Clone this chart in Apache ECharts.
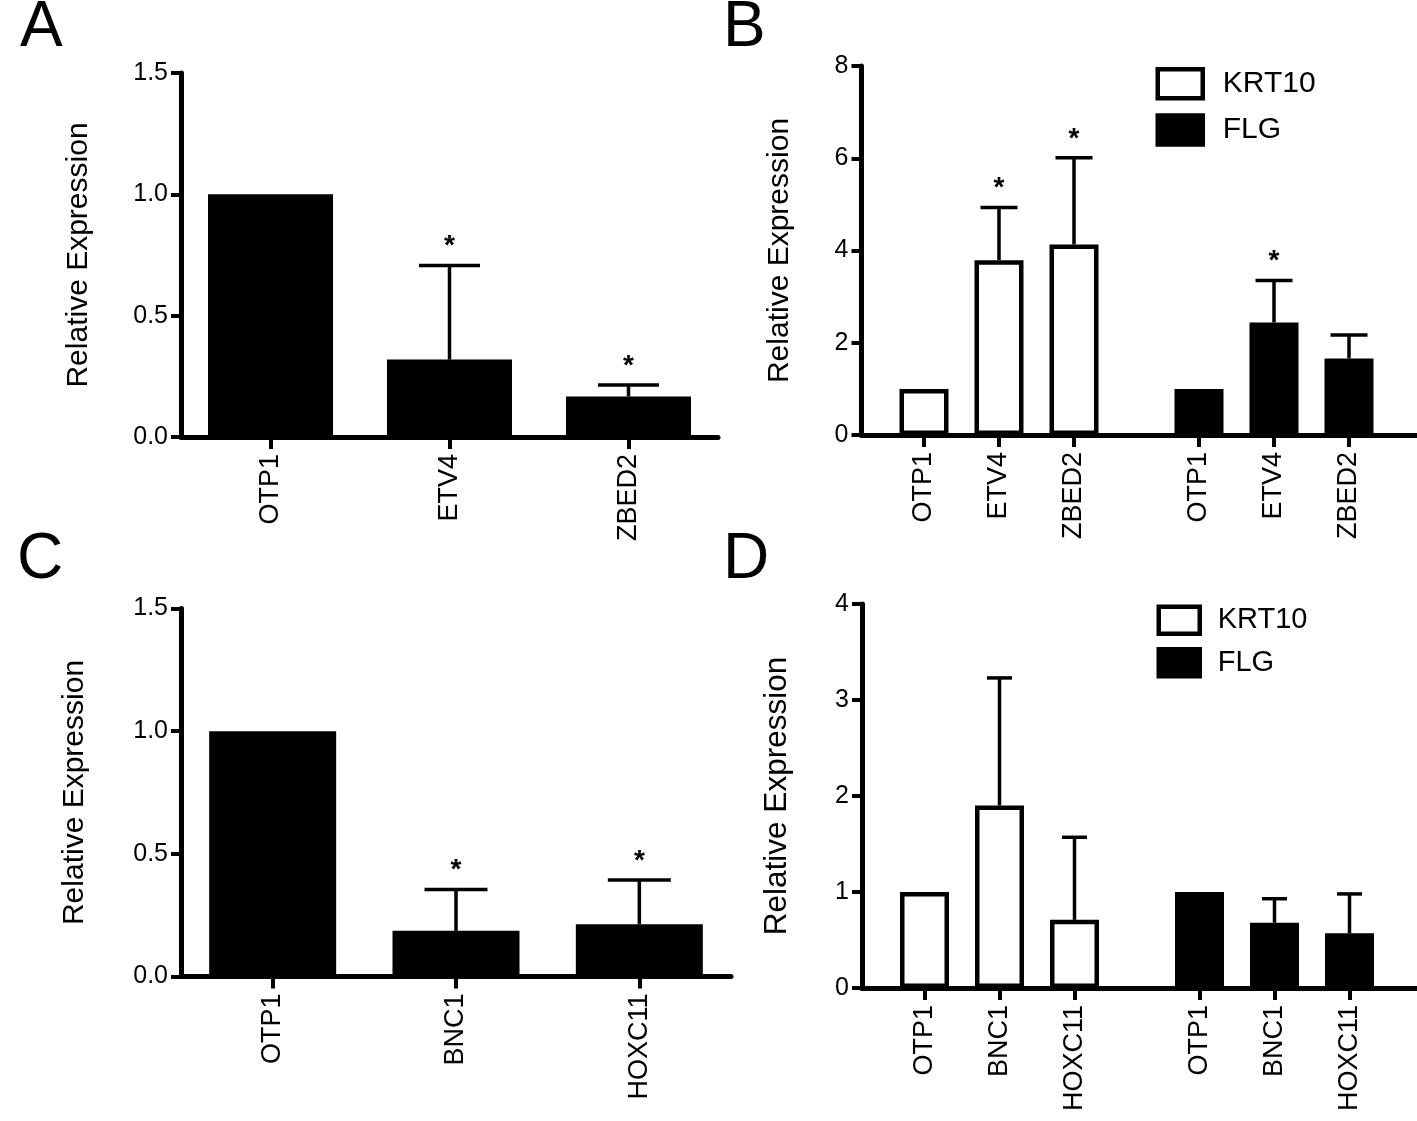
<!DOCTYPE html>
<html>
<head>
<meta charset="utf-8">
<script src="https://cdn.jsdelivr.net/npm/echarts@6/dist/echarts.min.js"></script>
<style>
html,body{margin:0;padding:0;background:#fff;}
#chart{width:1417px;height:1121px;}
</style>
</head>
<body>
<div id="chart"></div>
<script>
// ---------------- DATA ----------------
const yAxisName = 'Relative Expression';
const panelLetters = ['A', 'B', 'C', 'D'];
const seriesNames = ['KRT10', 'FLG'];

// Panel A
const genesA = ['OTP1', 'ETV4', 'ZBED2'];
const valuesA = [1.0, 0.319, 0.167];
const sdA = [0, 0.388, 0.047];
const sigA = [0, 1, 1];

// Panel B
const genesB = ['OTP1', 'ETV4', 'ZBED2'];
const krt10B = [1.0, 3.79, 4.13];
const krt10BSd = [0, 1.14, 1.88];
const krt10BSig = [0, 1, 1];
const flgB = [1.0, 2.44, 1.66];
const flgBSd = [0, 0.91, 0.51];
const flgBSig = [0, 1, 0];

// Panel C
const genesC = ['OTP1', 'BNC1', 'HOXC11'];
const valuesC = [1.0, 0.186, 0.213];
const sdC = [0, 0.169, 0.18];
const sigC = [0, 1, 1];

// Panel D
const genesD = ['OTP1', 'BNC1', 'HOXC11'];
const krt10D = [1.0, 1.90, 0.71];
const krt10DSd = [0, 1.33, 0.86];
const krt10DSig = [0, 0, 0];
const flgD = [1.0, 0.68, 0.57];
const flgDSd = [0, 0.25, 0.41];
const flgDSig = [0, 0, 0];

// Y tick settings
const yTicksA = {min: 0, max: 1.5, interval: 0.5};
const yTicksB = {min: 0, max: 8, interval: 2};
const yTicksC = {min: 0, max: 1.5, interval: 0.5};
const yTicksD = {min: 0, max: 4, interval: 1};

// ---------------- LAYOUT HELPERS ----------------
const FONT = "'Liberation Sans', Arial, Helvetica, sans-serif";
const BLACK = '#000';

// grouped panels: slot layout on a category axis (spacers between groups)
const SLOT_TOTAL = 23, LEAD = 2, STEP = 3, GROUP2 = 13;
function slotCats(genes) {
  const cats = new Array(SLOT_TOTAL).fill('');
  genes.forEach((g, i) => { cats[LEAD + STEP * i] = g; cats[GROUP2 + STEP * i] = g; });
  return cats;
}
function slotIdx(group, i) { return (group === 0 ? LEAD : GROUP2) + STEP * i; }
function slotBarData(vals, group) {
  const d = new Array(SLOT_TOTAL).fill('-');
  vals.forEach((v, i) => { d[slotIdx(group, i)] = v; });
  return d;
}
function errData(vals, sds, sigs, idxFn) {
  const out = [];
  vals.forEach((v, i) => { if (sds[i] > 0) out.push([idxFn(i), v, v + sds[i], sigs[i]]); });
  return out;
}
function errRender(capW) {
  return function (params, api) {
    const x = api.value(0), v = api.value(1), up = api.value(2), sig = api.value(3);
    const p0 = api.coord([x, v]);
    const p1 = api.coord([x, up]);
    const children = [
      {type: 'line', shape: {x1: p0[0], y1: p0[1], x2: p1[0], y2: p1[1]}, style: {stroke: BLACK, lineWidth: 3.5}},
      {type: 'line', shape: {x1: p1[0] - capW / 2, y1: p1[1], x2: p1[0] + capW / 2, y2: p1[1]}, style: {stroke: BLACK, lineWidth: 3.5}}
    ];
    if (sig) {
      children.push({type: 'text', x: p1[0], y: p1[1] - 19,
        style: {text: '*', fontSize: 28, fontWeight: 'bold', fill: BLACK, align: 'center', verticalAlign: 'middle', fontFamily: FONT}});
    }
    return {type: 'group', children: children};
  };
}
const notBlank = (idx, val) => val !== '';

function xAxisCfg(gridIndex, cats, isSlots) {
  return {
    type: 'category', gridIndex: gridIndex, data: cats, boundaryGap: true,
    axisLine: {lineStyle: {color: BLACK, width: 5}},
    axisTick: {show: true, length: 12, alignWithLabel: true, interval: isSlots ? notBlank : 0,
      lineStyle: {color: BLACK, width: 4}},
    axisLabel: {rotate: 90, margin: 17, fontSize: 27, color: BLACK, fontFamily: FONT, interval: isSlots ? notBlank : 0},
    splitLine: {show: false}
  };
}
function yAxisCfg(gridIndex, t, decimals, nameGap, nameSize) {
  return {
    type: 'value', gridIndex: gridIndex, min: t.min, max: t.max, interval: t.interval,
    name: yAxisName, nameLocation: 'middle', nameGap: nameGap,
    nameTextStyle: {fontSize: nameSize, color: BLACK, fontFamily: FONT},
    axisLine: {show: true, lineStyle: {color: BLACK, width: 5}},
    axisTick: {show: true, length: 10, lineStyle: {color: BLACK, width: 4}},
    axisLabel: {margin: 13, fontSize: 25, color: BLACK, fontFamily: FONT,
      formatter: v => v.toFixed(decimals)},
    splitLine: {show: false}
  };
}
const whiteBar = {color: '#fff', borderColor: BLACK, borderWidth: 4.5};
const blackBar = {color: BLACK, borderColor: BLACK, borderWidth: 4.5};

const catsB = slotCats(genesB);
const catsD = slotCats(genesD);

const option = {
  animation: false,
  backgroundColor: '#fff',
  textStyle: {fontFamily: FONT},
  grid: [
    {left: 181, top: 73, width: 537, height: 364, outerBoundsMode: 'none'},
    {left: 861.5, top: 66, width: 575, height: 369, outerBoundsMode: 'none'},
    {left: 181, top: 608.5, width: 550, height: 368, outerBoundsMode: 'none'},
    {left: 862, top: 604, width: 575, height: 384, outerBoundsMode: 'none'}
  ],
  xAxis: [
    xAxisCfg(0, genesA, false),
    xAxisCfg(1, catsB, true),
    xAxisCfg(2, genesC, false),
    xAxisCfg(3, catsD, true)
  ],
  yAxis: [
    yAxisCfg(0, yTicksA, 1, 87, 30),
    yAxisCfg(1, yTicksB, 0, 67, 30),
    yAxisCfg(2, yTicksC, 1, 91, 30),
    yAxisCfg(3, yTicksD, 0, 69, 31.5)
  ],
  legend: [
    {orient: 'vertical', left: 1155.5, top: 67, padding: 0, itemWidth: 45, itemHeight: 29, itemGap: 12.7, icon: 'rect',
      selectedMode: false,
      textStyle: {fontSize: 30, color: BLACK, fontFamily: FONT, padding: [0, 0, 0, 15]},
      data: [{name: seriesNames[0], itemStyle: whiteBar}, {name: seriesNames[1], itemStyle: blackBar}]},
    {orient: 'vertical', left: 1156.5, top: 604.5, padding: 0, itemWidth: 41, itemHeight: 27, itemGap: 11, icon: 'rect',
      selectedMode: false,
      textStyle: {fontSize: 29, color: BLACK, fontFamily: FONT, padding: [0, 0, 0, 13]},
      data: [{name: seriesNames[0], itemStyle: whiteBar}, {name: seriesNames[1], itemStyle: blackBar}]}
  ],
  graphic: [
    {type: 'text', x: 20, y: 28, style: {text: panelLetters[0], fontSize: 64, fill: BLACK, fontFamily: FONT, verticalAlign: 'middle'}},
    {type: 'text', x: 723, y: 28, style: {text: panelLetters[1], fontSize: 64, fill: BLACK, fontFamily: FONT, verticalAlign: 'middle'}},
    {type: 'text', x: 17, y: 560, style: {text: panelLetters[2], fontSize: 64, fill: BLACK, fontFamily: FONT, verticalAlign: 'middle'}},
    {type: 'text', x: 723, y: 560, style: {text: panelLetters[3], fontSize: 64, fill: BLACK, fontFamily: FONT, verticalAlign: 'middle'}}
  ],
  series: [
    // Panel A
    {type: 'bar', name: 'A', xAxisIndex: 0, yAxisIndex: 0, barWidth: 125, data: valuesA,
      itemStyle: {color: BLACK}},
    {type: 'custom', xAxisIndex: 0, yAxisIndex: 0, renderItem: errRender(61),
      data: errData(valuesA, sdA, sigA, i => i)},
    // Panel B
    {type: 'bar', name: seriesNames[0], xAxisIndex: 1, yAxisIndex: 1, barWidth: 49, barGap: '-100%',
      data: slotBarData(krt10B, 0), itemStyle: whiteBar},
    {type: 'bar', name: seriesNames[1], xAxisIndex: 1, yAxisIndex: 1, barWidth: 49, barGap: '-100%',
      data: slotBarData(flgB, 1), itemStyle: blackBar},
    {type: 'custom', xAxisIndex: 1, yAxisIndex: 1, renderItem: errRender(37),
      data: errData(krt10B, krt10BSd, krt10BSig, i => slotIdx(0, i))
        .concat(errData(flgB, flgBSd, flgBSig, i => slotIdx(1, i)))},
    // Panel C
    {type: 'bar', name: 'C', xAxisIndex: 2, yAxisIndex: 2, barWidth: 127, data: valuesC,
      itemStyle: {color: BLACK}},
    {type: 'custom', xAxisIndex: 2, yAxisIndex: 2, renderItem: errRender(63),
      data: errData(valuesC, sdC, sigC, i => i)},
    // Panel D
    {type: 'bar', name: seriesNames[0], xAxisIndex: 3, yAxisIndex: 3, barWidth: 49, barGap: '-100%',
      data: slotBarData(krt10D, 0), itemStyle: whiteBar},
    {type: 'bar', name: seriesNames[1], xAxisIndex: 3, yAxisIndex: 3, barWidth: 49, barGap: '-100%',
      data: slotBarData(flgD, 1), itemStyle: blackBar},
    {type: 'custom', xAxisIndex: 3, yAxisIndex: 3, renderItem: errRender(25),
      data: errData(krt10D, krt10DSd, krt10DSig, i => slotIdx(0, i))
        .concat(errData(flgD, flgDSd, flgDSig, i => slotIdx(1, i)))}
  ]
};

const chart = echarts.init(document.getElementById('chart'), null, {renderer: 'canvas'});
chart.setOption(option);
</script>
</body>
</html>
